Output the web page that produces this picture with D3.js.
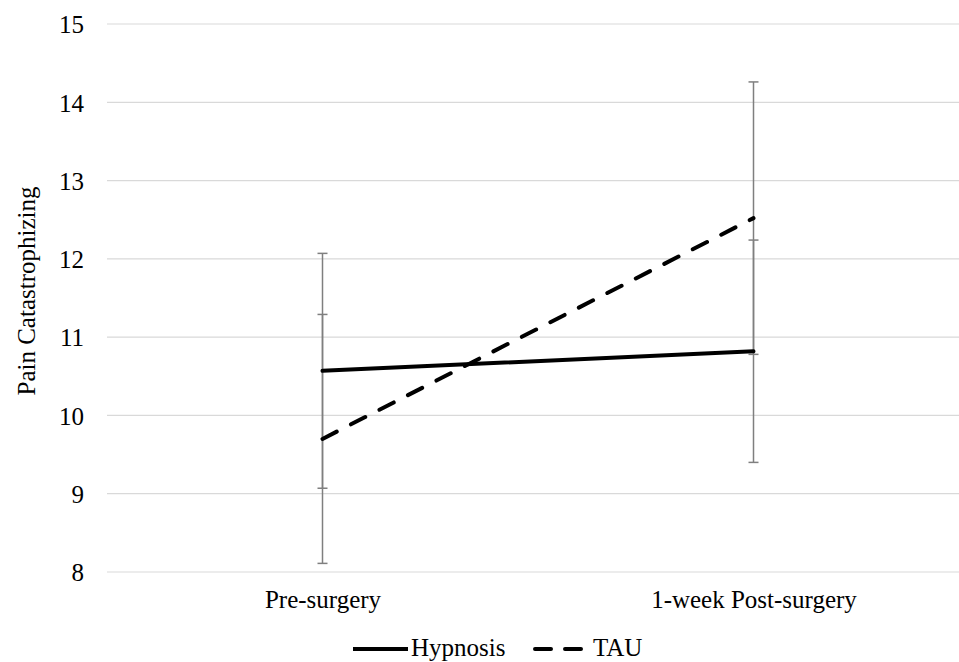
<!DOCTYPE html>
<html>
<head>
<meta charset="utf-8">
<script src="https://cdn.jsdelivr.net/npm/d3@7"></script>
<style>
  body { margin: 0; background: white; }
</style>
</head>
<body>
<div id="container"></div>
<script>
let w = 959;
let h = 662;
let serif = "'Liberation Serif', 'Times New Roman', serif";

// data
let timepoints = ["Pre-surgery", "1-week Post-surgery"];
let hypnosisMeans = [10.57, 10.82];
let hypnosisErr = [1.5, 1.42];
let tauMeans = [9.70, 12.52];
let tauErr = [1.59, 1.74];
let yTicks = [8, 9, 10, 11, 12, 13, 14, 15];

let series = [
  {name: "Hypnosis", means: hypnosisMeans, err: hypnosisErr, dash: null},
  {name: "TAU", means: tauMeans, err: tauErr, dash: "16,16"}
];

let viz = d3.select("#container")
  .append("svg")
    .attr("width", w)
    .attr("height", h)
    .style("background-color", "white");

let xScale = d3.scalePoint().domain(timepoints).range([107, 969]).padding(0.5);
let yScale = d3.scaleLinear().domain([8, 15]).range([572, 24]);

// gridlines
viz.append("g").selectAll("line").data(yTicks).join("line")
  .attr("x1", 107).attr("x2", w)
  .attr("y1", d => yScale(d)).attr("y2", d => yScale(d))
  .attr("stroke", "#d9d9d9").attr("stroke-width", 1.2);

// y axis labels
let yAxis = d3.axisLeft(yScale).tickValues(yTicks).tickFormat(d3.format("d")).tickSize(0).tickPadding(14);
let yAxisG = viz.append("g").attr("transform", "translate(98,0)").call(yAxis);
yAxisG.select(".domain").remove();
yAxisG.selectAll("text")
  .style("font-family", serif).style("font-size", "25px")
  .attr("fill", "#000").attr("dy", "0.35em");

// x axis labels
let xAxis = d3.axisBottom(xScale).tickSize(0);
let xAxisG = viz.append("g").attr("transform", "translate(0,572)").call(xAxis);
xAxisG.select(".domain").remove();
xAxisG.selectAll("text")
  .style("font-family", serif).style("font-size", "25px")
  .attr("fill", "#000").attr("y", 36).attr("dy", 0);

// y title
viz.append("text")
  .attr("transform", "translate(35,291) rotate(-90)")
  .attr("text-anchor", "middle")
  .style("font-family", serif).style("font-size", "25px")
  .text("Pain Catastrophizing");

// error bars
series.forEach(function(s){
  let g = viz.append("g");
  timepoints.forEach(function(t, i){
    let x = xScale(t);
    let lo = yScale(s.means[i] - s.err[i]);
    let hi = yScale(s.means[i] + s.err[i]);
    g.append("line").attr("x1", x).attr("x2", x).attr("y1", lo).attr("y2", hi)
      .attr("stroke", "#7f7f7f").attr("stroke-width", 1.5);
    [lo, hi].forEach(function(yy){
      g.append("line").attr("x1", x - 5).attr("x2", x + 5).attr("y1", yy).attr("y2", yy)
        .attr("stroke", "#7f7f7f").attr("stroke-width", 1.5);
    });
  });
});

// lines
let line = d3.line().x((d, i) => xScale(timepoints[i])).y(d => yScale(d));
series.forEach(function(s){
  viz.append("path")
    .datum(s.means)
    .attr("d", line)
    .attr("fill", "none")
    .attr("stroke", "#000")
    .attr("stroke-width", 4)
    .attr("stroke-linecap", "round")
    .attr("stroke-dasharray", s.dash);
});

// legend
let legend = viz.append("g").attr("transform", "translate(0,649)");
legend.append("line").attr("x1", 353).attr("x2", 408).attr("y1", 0).attr("y2", 0)
  .attr("stroke", "#000").attr("stroke-width", 4);
legend.append("text").attr("x", 411).attr("y", 7).text("Hypnosis");
legend.append("line").attr("x1", 535).attr("x2", 581).attr("y1", 0).attr("y2", 0)
  .attr("stroke", "#000").attr("stroke-width", 4).attr("stroke-dasharray", "16,14")
  .attr("stroke-linecap", "round");
legend.append("text").attr("x", 593).attr("y", 7).text("TAU");
legend.selectAll("text").style("font-family", serif).style("font-size", "25px").attr("fill", "#000");
</script>
</body>
</html>
